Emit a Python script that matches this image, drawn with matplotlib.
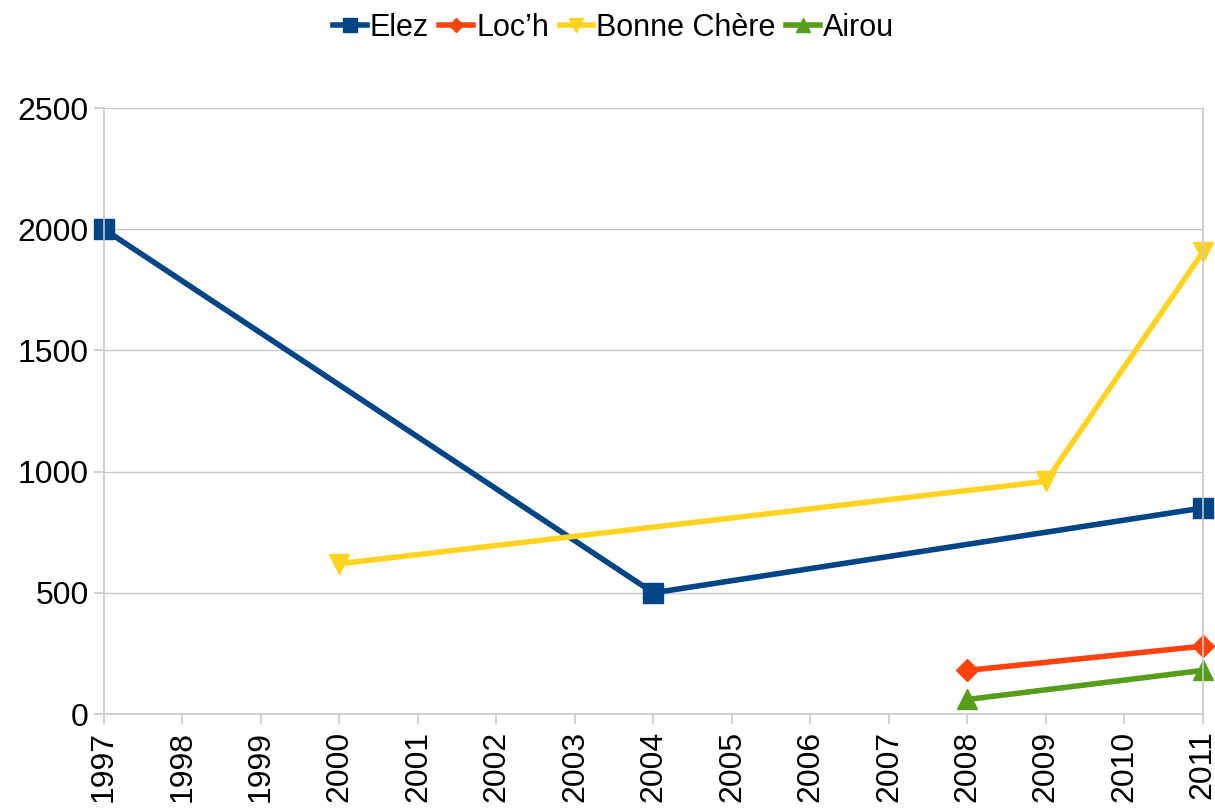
import matplotlib
matplotlib.use("Agg")
from matplotlib import pyplot as plt

plt.rcParams['font.family'] = ['Liberation Sans', 'DejaVu Sans']

years = list(range(1997, 2012))
elez_x = [1997, 2004, 2011]
elez_y = [2000, 500, 850]
loch_x = [2008, 2011]
loch_y = [180, 280]
bonne_x = [2000, 2009, 2011]
bonne_y = [620, 960, 1905]
airou_x = [2008, 2011]
airou_y = [60, 180]


def main():
    fig = plt.figure(figsize=(12.15, 8.08), dpi=100)
    ax = fig.add_axes([0.0856, 0.1163, 0.9044, 0.75])

    ax.plot(elez_x, elez_y, color='#004586', lw=4, marker='s', ms=15, label='Elez')
    ax.plot(loch_x, loch_y, color='#ff420e', lw=4, marker='D', ms=11, label='Loc\u2019h')
    ax.plot(bonne_x, bonne_y, color='#ffd320', lw=4, marker='v', ms=15, label='Bonne Chère')
    ax.plot(airou_x, airou_y, color='#579d1c', lw=4, marker='^', ms=15, label='Airou')

    ax.set_xlim(1997, 2011)
    ax.set_ylim(0, 2500)
    ax.set_xticks(years)
    ax.set_xticklabels([str(y) for y in years], rotation=90)
    ax.set_yticks(range(0, 2501, 500))
    ax.yaxis.grid(True, color='#c8c8c8', lw=1)
    ax.set_axisbelow(True)
    ax.spines['top'].set_visible(False)
    for s in ['left', 'right', 'bottom']:
        ax.spines[s].set_color('#c8c8c8')
        ax.spines[s].set_linewidth(1.2)
    ax.tick_params(axis='both', labelsize=23, color='#c8c8c8', length=7, width=1.2)
    ax.tick_params(axis='y', pad=4)
    ax.tick_params(axis='x', pad=5)
    for m in ax.get_lines():
        m.set_clip_on(False)

    fig.legend(loc='upper center', bbox_to_anchor=(0.505, 1.018), ncol=4, frameon=False,
               fontsize=22, handlelength=1.1, handletextpad=0.1, columnspacing=0.35,
               markerscale=0.65)
    fig.savefig('out.png')


main()
